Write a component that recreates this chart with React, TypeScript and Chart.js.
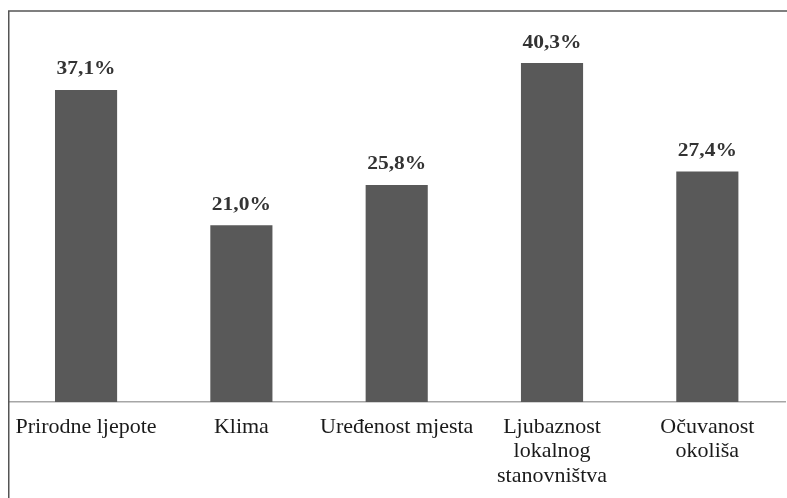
import React, { useEffect, useRef } from "react";
import { Chart, registerables } from "chart.js";

Chart.register(...registerables);

const categories: (string | string[])[] = [
  "Prirodne ljepote",
  "Klima",
  "Uređenost mjesta",
  ["Ljubaznost", "lokalnog", "stanovništva"],
  ["Očuvanost", "okoliša"],
];
const values: number[] = [37.1, 21.0, 25.8, 40.3, 27.4];
const valueLabels: string[] = ["37,1%", "21,0%", "25,8%", "40,3%", "27,4%"];

const FONT = "'Liberation Serif', 'Times New Roman', serif";

const decorPlugin = {
  id: "decor",
  afterDatasetsDraw(chart: any) {
    const ctx = chart.ctx;
    const meta = chart.getDatasetMeta(0);
    meta.data.forEach((bar: any, i: number) => {
      ctx.save();
      ctx.fillStyle = "#333333";
      ctx.font = `bold 19px ${FONT}`;
      ctx.textAlign = "center";
      ctx.textBaseline = "alphabetic";
      ctx.translate(bar.x, bar.y - 15.5);
      ctx.scale(1.13, 1);
      ctx.fillText(valueLabels[i], 0, 0);
      ctx.restore();
    });
  },
  afterDraw(chart: any) {
    const ctx = chart.ctx;
    ctx.save();
    ctx.strokeStyle = "#555555";
    ctx.lineWidth = 1.5;
    ctx.beginPath();
    ctx.moveTo(8, 11);
    ctx.lineTo(787, 11);
    ctx.moveTo(8.75, 11);
    ctx.lineTo(8.75, 498);
    ctx.stroke();
    ctx.restore();
  },
};

export default function App() {
  const ref = useRef<HTMLCanvasElement | null>(null);
  useEffect(() => {
    if (!ref.current) return;
    const chart = new Chart(ref.current, {
      type: "bar",
      data: {
        labels: categories as any,
        datasets: [
          {
            data: values,
            backgroundColor: "#595959",
            borderWidth: 0,
            barPercentage: 0.4,
            categoryPercentage: 1.0,
          },
        ],
      },
      options: {
        animation: false,
        responsive: true,
        maintainAspectRatio: false,
        layout: { padding: { top: 23.5, left: 8.4, right: 2, bottom: 0 } },
        plugins: {
          legend: { display: false },
          tooltip: { enabled: false },
        },
        scales: {
          x: {
            grid: { display: false, drawTicks: false },
            border: { display: true, color: "#a6a6a6", width: 1.5 },
            ticks: {
              color: "#1a1a1a",
              font: { family: FONT, size: 22, lineHeight: 1.11 },
              padding: 13,
              maxRotation: 0,
              minRotation: 0,
              autoSkip: false,
            },
            afterFit(scale: any) {
              scale.height = 96;
            },
          },
          y: {
            display: false,
            min: 0,
            max: 45,
          },
        },
      },
      plugins: [decorPlugin],
    });
    return () => chart.destroy();
  }, []);
  return (
    <div style={{ position: "fixed", left: 0, top: 0, width: 787, height: 498, background: "#fff" }}>
      <canvas ref={ref} />
    </div>
  );
}
